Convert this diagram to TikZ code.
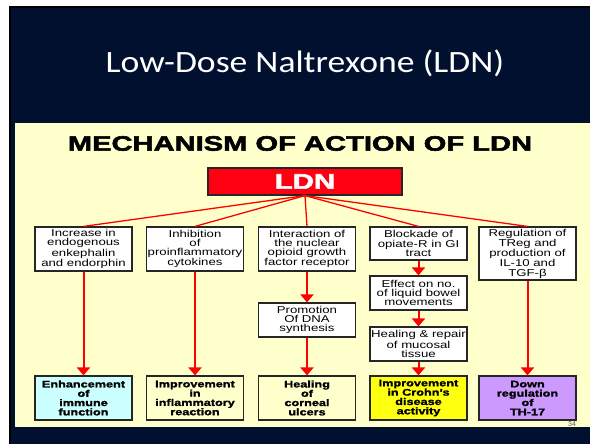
\documentclass[tikz,border=0pt]{standalone}
\usepackage{fontspec}
\setmainfont{Liberation Sans}
\newfontfamily\titlefont{Carlito}[FakeStretch=1.15]
\newfontfamily\boxfont{Liberation Sans}[FakeStretch=1.32, BoldFeatures={FakeBold=1.6}]
\newfontfamily\hdfont{Liberation Sans}[FakeStretch=1.40, BoldFeatures={FakeBold=2.6}]
\usetikzlibrary{arrows.meta}
\definecolor{navy}{HTML}{00102E}
\definecolor{panel}{HTML}{FFFFCC}
\definecolor{ldnred}{HTML}{FF0012}
\definecolor{cyanbox}{HTML}{CCFFFF}
\definecolor{yelbox}{HTML}{FFFF10}
\definecolor{purpbox}{HTML}{CC99FF}
\tikzset{
  box/.style={draw=black!85, line width=1.2pt, fill=white, inner sep=0pt, align=center,
    minimum width=97pt, font=\boxfont\fontsize{10}{9.2}\selectfont},
  resbox/.style={draw=black!85, line width=1.2pt, inner sep=0pt, align=center,
    minimum width=97pt, minimum height=44pt, font=\boxfont\bfseries\fontsize{9.6}{9.3}\selectfont},
  ldnbox/.style={draw=black!85, line width=1.2pt, fill=ldnred, inner sep=0pt,
    minimum width=194pt, minimum height=27pt, text=white, font=\hdfont\bfseries\fontsize{21}{21}\selectfont},
  branch/.style={draw=red, line width=1.3pt},
  arr/.style={draw=red, line width=2pt, -{Triangle[width=13pt,length=8pt]}}
}
\begin{document}
\begin{tikzpicture}[x=1pt,y=-1pt]
\useasboundingbox (0,0) rectangle (590,444);
\fill[white] (0,0) rectangle (590,444);
\fill[navy] (10,7) rectangle (590,444);
\draw[black, line width=1.2pt] (10,444) -- (10,7) -- (590,7);
\fill[panel] (15,123) rectangle (590,427);

\node[anchor=base, inner sep=0pt, text=white, font=\titlefont\fontsize{31}{31}\selectfont] (title) at (305,73) {Low-Dose Naltrexone (LDN)};
\node[inner sep=0pt, font=\hdfont\bfseries\fontsize{20.8}{20.8}\selectfont] (head) at (300,143.5) {MECHANISM OF ACTION OF LDN};

\node[ldnbox] (ldn) at (305,181.5) {LDN};

\node[box, minimum height=44pt] (b1) at (83.5,249) {Increase in\\endogenous\\enkephalin\\and endorphin};
\node[box, minimum height=44pt] (b2) at (195,249) {Inhibition\\of\\proinflammatory\\cytokines};
\node[box, minimum height=44pt] (b3) at (307,249) {Interaction of\\the nuclear\\opioid growth\\factor receptor};
\node[box, minimum height=33pt] (b4) at (418.5,243.5) {Blockade of\\opiate-R in GI\\tract};
\node[box, minimum height=53pt] (b5) at (527.5,253.5) {Regulation of\\TReg and\\production of\\IL-10 and\\TGF-β};

\node[box, minimum height=34pt] (prom) at (307,320) {Promotion\\Of DNA\\synthesis};
\node[box, minimum height=34pt] (eff) at (418.5,293) {Effect on no.\\of liquid bowel\\movements};
\node[box, minimum height=34pt] (heal) at (418.5,344) {Healing \& repair\\of mucosal\\tissue};

\node[resbox, fill=cyanbox] (r1) at (83.5,398) {Enhancement\\of\\immune\\function};
\node[resbox, fill=panel] (r2) at (195,398) {Improvement\\in\\inflammatory\\reaction};
\node[resbox, fill=panel] (r3) at (307,398) {Healing\\of\\corneal\\ulcers};
\node[resbox, fill=yelbox] (r4) at (418.5,398) {Improvement\\in Crohn’s\\disease\\activity};
\node[resbox, fill=purpbox] (r5) at (527.5,398) {Down\\regulation\\of\\TH-17};

\node[inner sep=0pt, text=black!65, font=\fontsize{7}{7}\selectfont] (pg) at (572,424) {34};

\foreach \b in {b1,b2,b3,b4,b5}
  \draw[branch] (ldn.south) -- (\b.north);

\draw[arr] (b1.south) -- (r1.north);
\draw[arr] (b2.south) -- (r2.north);
\draw[arr] (b3.south) -- (prom.north);
\draw[arr] (prom.south) -- (r3.north);
\draw[arr] (b4.south) -- (eff.north);
\draw[arr] (eff.south) -- (heal.north);
\draw[arr] (heal.south) -- (r4.north);
\draw[arr] (b5.south) -- (r5.north);
\end{tikzpicture}
\end{document}
